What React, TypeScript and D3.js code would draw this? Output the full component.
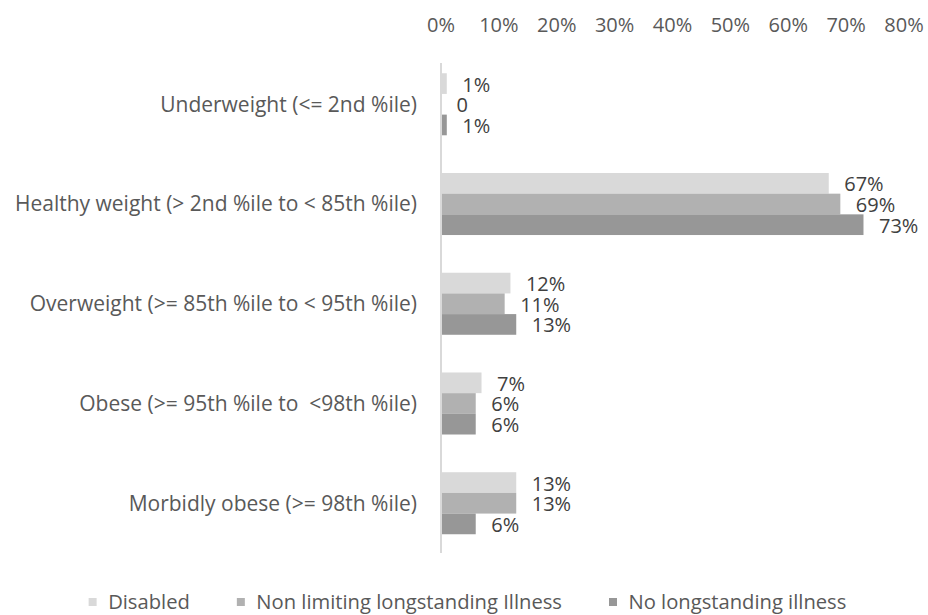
import React, { useEffect, useRef } from "react";
import * as d3 from "d3";

const categories = [
  "Underweight (<= 2nd %ile)",
  "Healthy weight (> 2nd %ile to < 85th %ile)",
  "Overweight (>= 85th %ile to < 95th %ile)",
  "Obese (>= 95th %ile to  <98th %ile)",
  "Morbidly obese (>= 98th %ile)",
];
const seriesNames = ["Disabled", "Non limiting longstanding Illness", "No longstanding illness"];
const disabled = [0.01, 0.67, 0.12, 0.07, 0.13];
const nonLimiting = [0, 0.69, 0.11, 0.06, 0.13];
const noIllness = [0.01, 0.73, 0.13, 0.06, 0.06];
const xTicks = [0, 0.1, 0.2, 0.3, 0.4, 0.5, 0.6, 0.7, 0.8];
const colors = ["#D9D9D9", "#B1B1B1", "#979797"];

const W = 928;
const H = 615;
const FONT = "'Open Sans', sans-serif";

export default function App() {
  const ref = useRef<SVGSVGElement>(null);

  useEffect(() => {
    const svg = d3.select(ref.current!);
    svg.selectAll("*").remove();

    const seriesValues = [disabled, nonLimiting, noIllness];
    const x = d3.scaleLinear().domain([0, 0.8]).range([441, 904]);
    const y = d3
      .scaleBand<string>()
      .domain(categories)
      .range([54.4, 553.1])
      .paddingInner(0.378)
      .paddingOuter(0.189);
    const ys = d3.scaleBand<string>().domain(seriesNames).range([0, y.bandwidth()]);

    const fmt = (v: number) => (v === 0 ? "0" : d3.format(".0%")(v));

    // top axis tick labels
    svg
      .append("g")
      .selectAll("text")
      .data(xTicks)
      .join("text")
      .attr("x", (d) => x(d))
      .attr("y", 24.5)
      .attr("dy", "0.35em")
      .attr("text-anchor", "middle")
      .attr("font-family", FONT)
      .attr("font-size", 20)
      .attr("fill", "#595959")
      .text((d) => d3.format(".0%")(d));

    // bars
    const groups = svg
      .append("g")
      .selectAll("g")
      .data(seriesNames)
      .join("g")
      .attr("fill", (_, i) => colors[i]);

    groups
      .selectAll("rect")
      .data((s, i) => categories.map((c, j) => ({ c, s, v: seriesValues[i][j] })))
      .join("rect")
      .attr("x", x(0))
      .attr("y", (d) => y(d.c)! + ys(d.s)!)
      .attr("width", (d) => x(d.v) - x(0))
      .attr("height", ys.bandwidth());

    // data labels
    const labels = svg.append("g");
    seriesNames.forEach((s, i) => {
      labels
        .append("g")
        .selectAll("text")
        .data(categories.map((c, j) => ({ c, v: seriesValues[i][j] })))
        .join("text")
        .attr("x", (d) => x(d.v) + 15.5)
        .attr("y", (d) => y(d.c)! + ys(s)! + ys.bandwidth() / 2 + 1)
        .attr("dy", "0.35em")
        .attr("font-family", FONT)
        .attr("font-size", 20)
        .attr("fill", "#404040")
        .text((d) => fmt(d.v));
    });

    // category axis line
    svg
      .append("line")
      .attr("x1", x(0))
      .attr("x2", x(0))
      .attr("y1", 63)
      .attr("y2", y.range()[1])
      .attr("stroke", "#D9D9D9")
      .attr("stroke-width", 2);

    // category labels
    svg
      .append("g")
      .selectAll("text")
      .data(categories)
      .join("text")
      .attr("x", x(0) - 24)
      .attr("y", (d) => y(d)! + y.bandwidth() / 2)
      .attr("dy", "0.35em")
      .attr("text-anchor", "end")
      .attr("font-family", FONT)
      .attr("font-size", 21)
      .attr("fill", "#595959")
      .style("white-space", "pre")
      .text((d) => d);

    // legend
    const legend = svg.append("g");
    const items = legend
      .selectAll("g")
      .data(seriesNames)
      .join("g");
    items
      .append("rect")
      .attr("x", 0)
      .attr("y", -4)
      .attr("width", 8)
      .attr("height", 8)
      .attr("fill", (_, i) => colors[i]);
    items
      .append("text")
      .attr("x", 19.5)
      .attr("y", 0)
      .attr("dy", "0.35em")
      .attr("font-family", FONT)
      .attr("font-size", 20.2)
      .attr("fill", "#595959")
      .text((d) => d);
    const widths: number[] = [];
    items.each(function () {
      const t = d3.select(this).select("text").node() as SVGTextElement;
      widths.push(19.5 + t.getComputedTextLength());
    });
    const gap = 47;
    const total = d3.sum(widths) + gap * (widths.length - 1);
    let cx = W / 2 + 3.5 - total / 2;
    items.attr("transform", (_, i) => {
      const tx = cx;
      cx += widths[i] + gap;
      return `translate(${tx},602)`;
    });
  }, []);

  return (
    <svg
      ref={ref}
      width={W}
      height={H}
      style={{ position: "absolute", left: 0, top: 0, background: "#fff" }}
    />
  );
}
